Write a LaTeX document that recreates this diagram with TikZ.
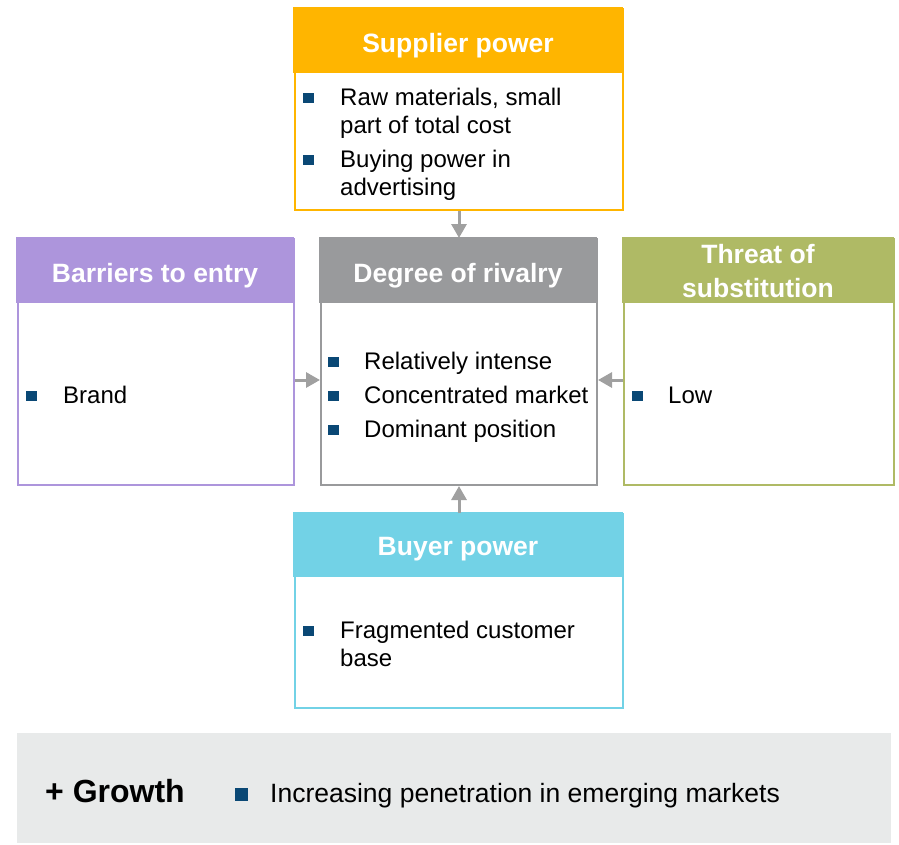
\documentclass[tikz,border=0pt]{standalone}
\usepackage{fontspec}
\setmainfont{Liberation Sans}
\usepackage{xcolor}
\usetikzlibrary{arrows.meta}

\definecolor{supplierorange}{HTML}{FFB500}
\definecolor{barrierpurple}{HTML}{AD95DC}
\definecolor{rivalrygray}{HTML}{999A9C}
\definecolor{threatgreen}{HTML}{AFBA65}
\definecolor{buyercyan}{HTML}{72D2E6}
\definecolor{bandgray}{HTML}{E8EAEA}
\definecolor{bulletblue}{HTML}{0A4875}
\definecolor{arrowgray}{HTML}{A0A0A0}

\newcommand{\bsq}{\textcolor{bulletblue}{\rule[2pt]{11pt}{10pt}}}

\begin{document}
\begin{tikzpicture}[x=1pt, y=-1pt,
	frame/.style={draw=#1, line width=2pt, fill=white, inner sep=0pt, anchor=north west},
	header/.style={fill=#1, inner sep=0pt, anchor=north west, minimum height=66pt},
	title/.style={anchor=base, inner sep=0pt, text=white, align=center, font=\bfseries\fontsize{26.5}{34}\selectfont},
	items/.style={anchor=base west, inner sep=0pt, font=\fontsize{24}{28}\selectfont},
	force/.style={draw=arrowgray, line width=3pt, -{Triangle[width=15pt,length=14pt]}}]
	\useasboundingbox (0,0) rectangle (899,844);
	
	% supplier power (top)
	\node[frame=supplierorange, minimum width=328pt, minimum height=201pt] (supplier) at (294,8) {};
	\node[header=supplierorange, minimum width=330pt] (supplierhead) at (293,7) {};
	\node[title] (suppliertitle) at (458,52) {Supplier power};
	\node[items] (supplieritems) at (303,105) {\begin{tabular}[t]{@{}l@{\hspace{26pt}}l@{}}
		\bsq & Raw materials, small\\ & part of total cost\\[6pt]
		\bsq & Buying power in\\ & advertising
	\end{tabular}};
	
	% barriers to entry (left)
	\node[frame=barrierpurple, minimum width=276pt, minimum height=246pt] (barriers) at (17,238) {};
	\node[header=barrierpurple, minimum width=278pt] (barriershead) at (16,237) {};
	\node[title] (barrierstitle) at (155,282) {Barriers to entry};
	\node[items] (barriersitems) at (26,403) {\begin{tabular}[t]{@{}l@{\hspace{26pt}}l@{}}
		\bsq & Brand
	\end{tabular}};
	
	% degree of rivalry (centre)
	\node[frame=rivalrygray, minimum width=276pt, minimum height=246pt] (rivalry) at (320,238) {};
	\node[header=rivalrygray, minimum width=278pt] (rivalryhead) at (319,237) {};
	\node[title] (rivalrytitle) at (458,282) {Degree of rivalry};
	\node[items] (rivalryitems) at (328,369) {\begin{tabular}[t]{@{}l@{\hspace{25pt}}l@{}}
		\bsq & Relatively intense\\[6pt]
		\bsq & Concentrated market\\[6pt]
		\bsq & Dominant position
	\end{tabular}};
	
	% threat of substitution (right), base is the second line
	\node[frame=threatgreen, minimum width=270pt, minimum height=246pt] (threat) at (623,238) {};
	\node[header=threatgreen, minimum width=272pt] (threathead) at (622,237) {};
	\node[title] (threattitle) at (758,297) {Threat of\\substitution};
	\node[items] (threatitems) at (632,403) {\begin{tabular}[t]{@{}l@{\hspace{25pt}}l@{}}
		\bsq & Low
	\end{tabular}};
	
	% buyer power (bottom)
	\node[frame=buyercyan, minimum width=328pt, minimum height=194pt] (buyer) at (294,513) {};
	\node[header=buyercyan, minimum width=330pt, minimum height=65pt] (buyerhead) at (293,512) {};
	\node[title] (buyertitle) at (458,555) {Buyer power};
	\node[items] (buyeritems) at (303,638) {\begin{tabular}[t]{@{}l@{\hspace{26pt}}l@{}}
		\bsq & Fragmented customer\\ & base
	\end{tabular}};
	
	% forces pointing at the rivalry box
	\draw[force] (supplier.south) -- (rivalry.north);
	\draw[force] (buyer.north) -- (rivalry.south);
	\draw[force] ([yshift=-18pt]barriers.east) -- ([yshift=-18pt]rivalry.west);
	\draw[force] ([yshift=-18pt]threat.west) -- ([yshift=-18pt]rivalry.east);
	
	% growth band
	\node[fill=bandgray, inner sep=0pt, anchor=north west, minimum width=874pt, minimum height=110pt] (growthband) at (17,733) {};
	\node[anchor=base west, inner sep=0pt, font=\bfseries\fontsize{32}{38}\selectfont] (growth) at (45,802) {+ Growth};
	\node[anchor=base west, inner sep=0pt, font=\fontsize{26.5}{32}\selectfont] (growthitem) at (235,802) {\textcolor{bulletblue}{\rule[1pt]{13pt}{13pt}}\hspace{22pt}Increasing penetration in emerging markets};
	
\end{tikzpicture}
\end{document}
